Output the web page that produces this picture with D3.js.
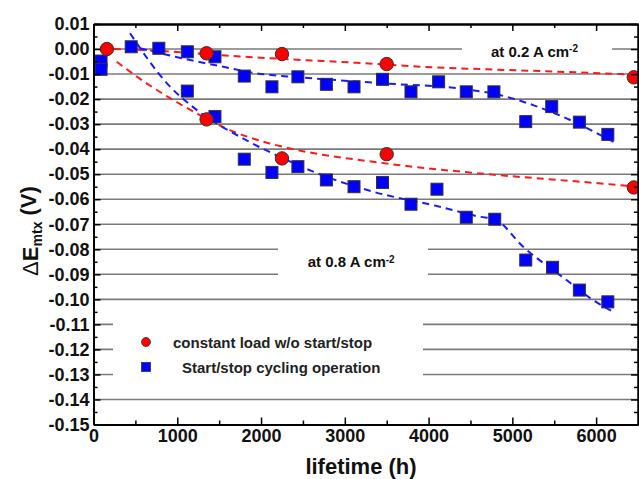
<!DOCTYPE html>
<html>
<head>
<meta charset="utf-8">
<script src="https://cdn.jsdelivr.net/npm/d3@7"></script>
<style>
  body { margin: 0; background: #fff; }
  text { font-family: "Liberation Sans", Arial, sans-serif; }
</style>
</head>
<body>
<div id="chart"></div>
<script>
// 1: DATA
// constant load w/o start/stop, at 0.2 A cm-2
const constLowH = [160, 1350, 2250, 3500, 6450];
const constLowV = [0.000, -0.0017, -0.002, -0.006, -0.0113];
// constant load w/o start/stop, at 0.8 A cm-2
const constHighH = [1350, 2250, 3500, 6450];
const constHighV = [-0.0281, -0.0437, -0.042, -0.0553];

// start/stop cycling, at 0.2 A cm-2
const cycLowH = [90, 450, 780, 1120, 1450, 1800, 2130, 2440, 2780, 3110, 3450, 3790, 4120, 4450, 4780, 5160, 5470, 5800, 6140];
const cycLowV = [-0.0048, 0.0009, 0.0003, -0.0011, -0.0031, -0.0108, -0.0151, -0.0111, -0.0141, -0.0151, -0.0121, -0.0171, -0.0131, -0.0171, -0.0171, -0.029, -0.023, -0.0292, -0.0341];
// start/stop cycling, at 0.8 A cm-2
const cycHighH = [90, 1120, 1450, 1800, 2130, 2440, 2780, 3110, 3450, 3790, 4100, 4450, 4790, 5160, 5480, 5800, 6140];
const cycHighV = [-0.0081, -0.0168, -0.027, -0.044, -0.0493, -0.047, -0.0523, -0.055, -0.0533, -0.062, -0.056, -0.0672, -0.068, -0.0843, -0.0872, -0.0963, -0.101];

// dashed trend lines
const fitConstLowH = [100, 760, 1670, 2340, 3140, 3930, 4690, 5250, 6450];
const fitConstLowV = [0.0002, -0.0007, -0.0028, -0.0041, -0.0055, -0.0071, -0.0081, -0.0087, -0.0102];
const fitConstHighH = [277, 634, 952, 1232, 1629, 2026, 2345, 3419, 4612, 5806, 6402];
const fitConstHighV = [-0.0051, -0.0137, -0.0204, -0.0257, -0.0324, -0.037, -0.0397, -0.0454, -0.0497, -0.053, -0.0547];
const fitCycLowH = [555, 1152, 1549, 1948, 2464, 3458, 4453, 4851, 5248, 5647, 6223];
const fitCycLowV = [0.0003, -0.0044, -0.0071, -0.0097, -0.0113, -0.0137, -0.0161, -0.0184, -0.0224, -0.0277, -0.0374];
const fitCycHighH = [436, 877, 1235, 1800, 2305, 2623, 3339, 4135, 4612, 4791, 5129, 5647, 5964, 6187];
const fitCycHighV = [0.0063, -0.0137, -0.0244, -0.036, -0.0443, -0.049, -0.057, -0.063, -0.067, -0.068, -0.079, -0.0923, -0.1003, -0.1047];

const xTicks = [0, 1000, 2000, 3000, 4000, 5000, 6000];
const yTicks = d3.range(0, 17).map(i => +(0.01 - i * 0.01).toFixed(2));
const gridValues = d3.range(0, 15).map(i => +(-i * 0.01).toFixed(2));
const legendLabels = ["constant load w/o start/stop", "Start/stop cycling operation"];

const zip = (h, v) => h.map((d, i) => ({ h: d, v: v[i] }));

// 2: SET GLOBAL VARIABLES
const margin = { top: 24, right: 1, bottom: 54.5, left: 93.5 };
const width = 639 - margin.left - margin.right;
const height = 479 - margin.top - margin.bottom;

const svg = d3.select("#chart")
    .append("svg")
    .attr("width", 639)
    .attr("height", 479);

const g = svg.append("g")
    .attr("transform", `translate(${margin.left},${margin.top})`);

// 3: SCALES
const x = d3.scaleLinear().domain([0, 6500]).range([0, width]);
const y = d3.scaleLinear().domain([-0.15, 0.01]).range([height, 0]);

// 4: GRID LINES + white label boxes that break them
g.append("g")
    .selectAll("line")
    .data(gridValues)
    .enter().append("line")
    .attr("x1", 0)
    .attr("x2", width)
    .attr("y1", d => y(d))
    .attr("y2", d => y(d))
    .attr("stroke", "#7a7a7a")
    .attr("stroke-width", 1.6);

const boxes = g.append("g").attr("fill", "#fff");
boxes.append("rect") // at 0.2
    .attr("x", 462 - margin.left).attr("y", 37 - margin.top)
    .attr("width", 150).attr("height", 24);
boxes.append("rect") // at 0.8
    .attr("x", 278 - margin.left).attr("y", 236 - margin.top)
    .attr("width", 150).attr("height", 55);
boxes.append("rect") // legend
    .attr("x", 113 - margin.left).attr("y", 306 - margin.top)
    .attr("width", 310).attr("height", 86);

// 5: TREND LINES
const line = d3.line()
    .x(d => x(d.h))
    .y(d => y(d.v))
    .curve(d3.curveMonotoneX);

const fits = [
    { data: zip(fitConstLowH, fitConstLowV), color: "#ff1a1a" },
    { data: zip(fitConstHighH, fitConstHighV), color: "#ff1a1a" },
    { data: zip(fitCycLowH, fitCycLowV), color: "#1a1aff" },
    { data: zip(fitCycHighH, fitCycHighV), color: "#1a1aff" }
];
fits.forEach(f => {
    g.append("path")
        .datum(f.data)
        .attr("d", line)
        .attr("fill", "none")
        .attr("stroke", f.color)
        .attr("stroke-width", 2)
        .attr("stroke-dasharray", "7,5");
});

// 6: MARKERS
const sq = 12;
g.append("g")
    .selectAll("rect")
    .data(zip(cycLowH, cycLowV).concat(zip(cycHighH, cycHighV)))
    .enter().append("rect")
    .attr("x", d => x(d.h) - sq / 2)
    .attr("y", d => y(d.v) - sq / 2)
    .attr("width", sq)
    .attr("height", sq)
    .attr("fill", "#0000ff")
    .attr("stroke", "#333")
    .attr("stroke-width", 1);

g.append("g")
    .selectAll("circle")
    .data(zip(constLowH, constLowV).concat(zip(constHighH, constHighV)))
    .enter().append("circle")
    .attr("cx", d => x(d.h))
    .attr("cy", d => y(d.v))
    .attr("r", 6.7)
    .attr("fill", "#ff0000")
    .attr("stroke", "#333")
    .attr("stroke-width", 1);

// 7: AXES (ticks point inward on all four sides)
const minorX = d3.range(500, 6500, 1000);
const minorY = d3.range(0, 16).map(i => 0.005 - i * 0.01);
const fmtY = d => d.toFixed(2);

function styleAxis(sel) {
    sel.select(".domain").attr("stroke", "#000").attr("stroke-width", 2);
    sel.selectAll(".tick line").attr("stroke", "#000").attr("stroke-width", 1.5);
    sel.selectAll("text")
        .attr("fill", "#111")
        .style("font-size", "18px")
        .style("font-weight", "bold")
        .style("font-family", "'Liberation Sans', Arial, sans-serif");
}

// bottom
g.append("g")
    .attr("transform", `translate(0,${height})`)
    .call(d3.axisBottom(x).tickValues(xTicks).tickSize(-7).tickSizeOuter(0).tickPadding(5).tickFormat(d3.format("d")))
    .call(styleAxis);
g.append("g")
    .attr("transform", `translate(0,${height})`)
    .call(d3.axisBottom(x).tickValues(minorX).tickSize(-4).tickSizeOuter(0).tickFormat(""))
    .call(styleAxis);
// top
g.append("g")
    .call(d3.axisTop(x).tickValues(xTicks).tickSize(-7).tickSizeOuter(0).tickFormat(""))
    .call(styleAxis);
g.append("g")
    .call(d3.axisTop(x).tickValues(minorX).tickSize(-4).tickSizeOuter(0).tickFormat(""))
    .call(styleAxis);
// left
g.append("g")
    .call(d3.axisLeft(y).tickValues(yTicks).tickSize(-7).tickSizeOuter(0).tickPadding(4).tickFormat(fmtY))
    .call(styleAxis);
g.append("g")
    .call(d3.axisLeft(y).tickValues(minorY).tickSize(-4).tickSizeOuter(0).tickFormat(""))
    .call(styleAxis);
// right
g.append("g")
    .attr("transform", `translate(${width},0)`)
    .call(d3.axisRight(y).tickValues(yTicks).tickSize(-7).tickSizeOuter(0).tickFormat(""))
    .call(styleAxis);
g.append("g")
    .attr("transform", `translate(${width},0)`)
    .call(d3.axisRight(y).tickValues(minorY).tickSize(-4).tickSizeOuter(0).tickFormat(""))
    .call(styleAxis);

// 8: LABELS
g.append("text")
    .attr("x", 361 - margin.left)
    .attr("y", 474 - margin.top)
    .attr("text-anchor", "middle")
    .style("font-size", "22px")
    .style("font-weight", "bold")
    .attr("fill", "#111")
    .text("lifetime (h)");

const yLab = svg.append("text")
    .attr("transform", "translate(38,231) rotate(-90)")
    .attr("text-anchor", "middle")
    .style("font-size", "22px")
    .style("font-weight", "bold")
    .attr("fill", "#111");
yLab.append("tspan").style("font-weight", "normal").text("\u0394");
yLab.append("tspan").text("E");
yLab.append("tspan").attr("dy", "0.3em").style("font-size", "14px").text("mtx");
yLab.append("tspan").attr("dy", "-0.3em").text(" (V)");

function currentLabel(txt, px, py) {
    const t = svg.append("text")
        .attr("x", px).attr("y", py)
        .style("font-size", "15px")
        .style("font-weight", "bold")
        .attr("fill", "#111");
    t.append("tspan").text(txt);
    t.append("tspan").attr("dy", "-0.45em").style("font-size", "10px").text("-2");
}
currentLabel("at 0.2 A cm", margin.left + x(4745), margin.top + y(-0.003));
currentLabel("at 0.8 A cm", margin.left + x(2557), margin.top + y(-0.0871));

// LEGEND
const legend = svg.append("g");
legend.append("circle")
    .attr("cx", 146).attr("cy", 342).attr("r", 4.5)
    .attr("fill", "#ff0000").attr("stroke", "#333").attr("stroke-width", 0.8);
legend.append("rect")
    .attr("x", 141.5).attr("y", 362.5).attr("width", 9).attr("height", 9)
    .attr("fill", "#0000ff").attr("stroke", "#333").attr("stroke-width", 0.8);
legend.selectAll("text")
    .data(legendLabels)
    .enter().append("text")
    .attr("x", (d, i) => i === 0 ? 173 : 182)
    .attr("y", (d, i) => 348 + i * 25)
    .style("font-size", "15px")
    .style("font-weight", "bold")
    .attr("fill", "#222")
    .text(d => d);
</script>
</body>
</html>
